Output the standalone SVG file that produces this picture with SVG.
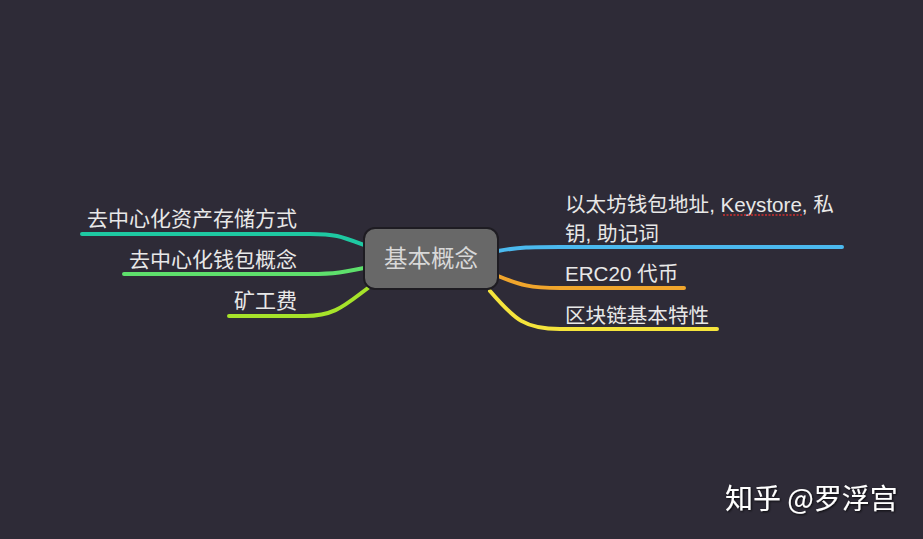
<svg xmlns="http://www.w3.org/2000/svg" width="923" height="539" viewBox="0 0 923 539">
<defs>
<style>
.t{font-family:"Liberation Sans","Noto Sans CJK SC",sans-serif;font-size:21px;fill:#e8e8e8}
.r{font-size:20.6px}
.c{fill:none;stroke-width:4;stroke-linecap:round}
</style>
<filter id="sh" x="-10%" y="-20%" width="120%" height="140%"><feDropShadow dx="1" dy="1" stdDeviation="1" flood-color="#000" flood-opacity="0.8"/></filter>
</defs>
<rect width="923" height="539" fill="#2e2b37"/>
<g id="connectors">
<path class="c" stroke="#1ec9a2" d="M364,245 C340,236 335,234 310,234 L82,234"/>
<path class="c" stroke="#5ee06c" d="M364,268 C345,272 335,274 310,274 L124,274"/>
<path class="c" stroke="#a6e32a" d="M368,288 C345,305 335,316 305,316 L229,316"/>
<path class="c" stroke="#4bb9ee" d="M498,251 C520,247 530,247 560,247 L842,247"/>
<path class="c" stroke="#f0a52c" d="M498,276 C520,285 530,288 560,288 L684,288"/>
<path class="c" stroke="#f5e43c" d="M490,291 C515,320 525,329 560,329 L717,329"/>
</g>
<g id="center">
<rect x="364" y="228" width="134" height="61" rx="11" fill="#686868" stroke="#1e1c22" stroke-width="2"/>
<text x="431" y="267" text-anchor="middle" style="font-family:'Liberation Sans','Noto Sans CJK SC',sans-serif;font-size:23.5px;fill:#d8d8d8">基本概念</text>
</g>
<g id="n1"><text class="t" x="297" y="226" text-anchor="end">去中心化资产存储方式</text></g>
<g id="n2"><text class="t" x="297" y="267" text-anchor="end">去中心化钱包概念</text></g>
<g id="n3"><text class="t" x="297" y="308" text-anchor="end">矿工费</text></g>
<g id="n4">
<text class="t r" x="565" y="212">以太坊钱包地址, Keystore, 私</text>
<text class="t r" x="565" y="241">钥, 助记词</text>
<line x1="723" y1="215" x2="803" y2="215" stroke="#d03030" stroke-width="1.5" stroke-dasharray="2,1.5"/>
</g>
<g id="n5"><text class="t r" x="565" y="281">ERC20 代币</text></g>
<g id="n6"><text class="t r" x="565" y="323">区块链基本特性</text></g>
<g id="watermark"><text x="725" y="509" filter="url(#sh)" style="font-family:'Noto Sans CJK SC',sans-serif;font-size:28px;fill:#ffffff">知乎 @罗浮宫</text></g>
</svg>
